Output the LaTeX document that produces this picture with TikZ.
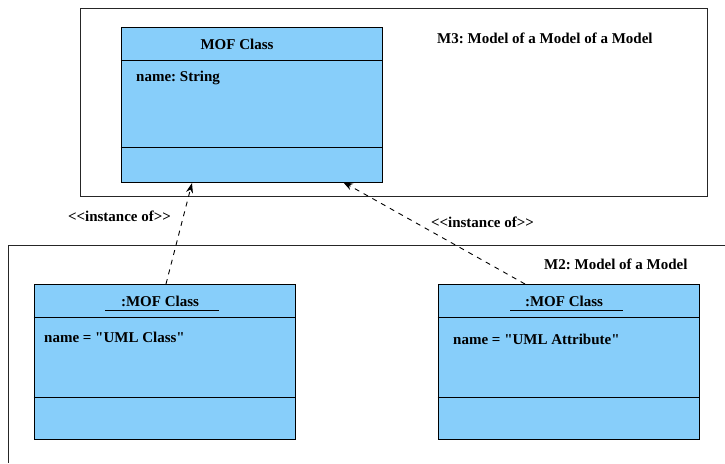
\documentclass[tikz,border=0pt]{standalone}
\usepackage{fontspec}
\setmainfont{Liberation Serif}
\usetikzlibrary{arrows.meta}
\definecolor{skyblue}{RGB}{135,206,250}
\frenchspacing
\newcommand{\instlabel}{<\kern0pt<instance of>\kern0pt>}

\begin{document}
\begin{tikzpicture}[x=1pt,y=-1pt,
  every node/.style={font=\fontsize{15}{17}\selectfont\bfseries,inner sep=0pt},
  frame/.style={draw=black!85,line width=0.9pt},
  classbox/.style={draw=black,line width=1pt,fill=skyblue,minimum width=261pt,minimum height=155pt},
  instof/.style={dash pattern=on 5pt off 5pt,-{Stealth[length=10pt,width=7pt]},line width=0.9pt}]
\useasboundingbox (0,0) rectangle (725,463);
\draw[frame] (80,8) rectangle (707,196); % M3
\draw[frame] (725,245) -| (8,463); % M2
\node[anchor=west] (m3) at (437,38) {M3: Model of a Model of a Model};
\node[anchor=west] (m2) at (544,264) {M2: Model of a Model};
% MOF class
\node[classbox] (mof) at (251.5,104.5) {};
\draw[line width=1pt] ([yshift=-34pt]mof.north west) -- ([yshift=-34pt]mof.north east);
\draw[line width=1pt] ([yshift=35pt]mof.south west) -- ([yshift=35pt]mof.south east);
\node (mofname) at (237,44) {MOF Class};
\node[anchor=west] (mofattr) at (136,78) {name: String};
% UML Class instance
\node[classbox] (umlclass) at (164.5,361.5) {};
\draw[line width=1pt] ([yshift=-34pt]umlclass.north west) -- ([yshift=-34pt]umlclass.north east);
\draw[line width=1pt] ([yshift=42pt]umlclass.south west) -- ([yshift=42pt]umlclass.south east);
\node (umlclassname) at (160,301) {:MOF Class};
\draw[line width=0.8pt] (105,310) -- (219,310);
\node[anchor=west] (umlclassattr) at (44,337) {name = \textquotedbl UML Class\textquotedbl};
% UML Attribute instance
\node[classbox] (umlattr) at (568.5,361.5) {};
\draw[line width=1pt] ([yshift=-34pt]umlattr.north west) -- ([yshift=-34pt]umlattr.north east);
\draw[line width=1pt] ([yshift=42pt]umlattr.south west) -- ([yshift=42pt]umlattr.south east);
\node (umlattrname) at (564,301) {:MOF Class};
\draw[line width=0.8pt] (510,310) -- (623,310);
\node[anchor=west] (umlattrattr) at (453,339) {name = \textquotedbl UML Attribute\textquotedbl};
% instance of
\coordinate (clsout) at (166,284);
\coordinate (clsin) at (192,183);
\coordinate (attout) at (525,284);
\coordinate (attin) at (343,182);
\draw[instof] (clsout) -- (clsin);
\draw[instof] (attout) -- (attin);
\node (inst1) at (119.5,216) {\instlabel};
\node (inst2) at (482.5,222) {\instlabel};
\end{tikzpicture}
\end{document}
